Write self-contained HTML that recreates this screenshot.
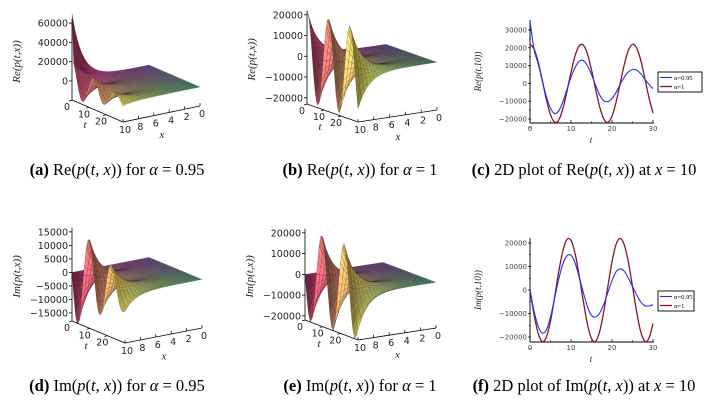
<!DOCTYPE html>
<html><head><meta charset="utf-8"><style>
html,body{margin:0;padding:0;background:#fff}
svg{display:block}
.tk{font-family:"DejaVu Sans","Liberation Sans",sans-serif;font-size:9.5px;fill:#222}
.tk2{font-family:"DejaVu Sans","Liberation Sans",sans-serif;font-size:7px;fill:#444}
.lab{font-family:"Liberation Serif",serif;font-style:italic;font-size:11px;fill:#222}
.lab2{font-family:"Liberation Serif",serif;font-style:italic;font-size:9px;fill:#222}
.cap{font-family:"Liberation Serif",serif;font-size:16.5px;fill:#000}
.leg{font-family:"Liberation Serif",serif;font-size:6.5px;fill:#000}
</style></head><body>
<svg id="fig" width="706" height="402" viewBox="0 0 706 402" xmlns="http://www.w3.org/2000/svg">
<g id="pa"></g>
<g id="pb"></g>
<g id="pc"></g>
<g id="pd"></g>
<g id="pe"></g>
<g id="pf"></g>

<text class="cap" x="117" y="175" text-anchor="middle"><tspan font-weight="bold">(a)</tspan> Re(<tspan font-style="italic">p</tspan>(<tspan font-style="italic">t</tspan>, <tspan font-style="italic">x</tspan>)) for <tspan font-style="italic">α</tspan> = 0.95</text>
<text class="cap" x="360" y="175" text-anchor="middle"><tspan font-weight="bold">(b)</tspan> Re(<tspan font-style="italic">p</tspan>(<tspan font-style="italic">t</tspan>, <tspan font-style="italic">x</tspan>)) for <tspan font-style="italic">α</tspan> = 1</text>
<text class="cap" x="584" y="175" text-anchor="middle"><tspan font-weight="bold">(c)</tspan> 2D plot of Re(<tspan font-style="italic">p</tspan>(<tspan font-style="italic">t</tspan>, <tspan font-style="italic">x</tspan>)) at <tspan font-style="italic">x</tspan> = 10</text>
<text class="cap" x="117" y="391" text-anchor="middle"><tspan font-weight="bold">(d)</tspan> Im(<tspan font-style="italic">p</tspan>(<tspan font-style="italic">t</tspan>, <tspan font-style="italic">x</tspan>)) for <tspan font-style="italic">α</tspan> = 0.95</text>
<text class="cap" x="360" y="391" text-anchor="middle"><tspan font-weight="bold">(e)</tspan> Im(<tspan font-style="italic">p</tspan>(<tspan font-style="italic">t</tspan>, <tspan font-style="italic">x</tspan>)) for <tspan font-style="italic">α</tspan> = 1</text>
<text class="cap" x="584" y="391" text-anchor="middle"><tspan font-weight="bold">(f)</tspan> 2D plot of Im(<tspan font-style="italic">p</tspan>(<tspan font-style="italic">t</tspan>, <tspan font-style="italic">x</tspan>)) at <tspan font-style="italic">x</tspan> = 10</text>
</svg>
<script>
// ---- data (values at x = 10, t = 0..30 step 1) ----
const tValues = [0,1,2,3,4,5,6,7,8,9,10,11,12,13,14,15,16,17,18,19,20,21,22,23,24,25,26,27,28,29,30];
const reAlpha095 = [35000,19000,11000,1500,-7500,-14000,-17000,-15500,-10500,-3500,3500,9000,12500,12800,10000,5000,-1000,-6500,-9800,-10200,-8500,-5000,-500,3500,6500,7800,7500,5500,2500,-500,-3000];
const reAlpha1 = [22000,19300,11900,1600,-9200,-17600,-21800,-20600,-14400,-4600,6200,15600,21100,21500,16600,7600,-3200,-13200,-20000,-21900,-18500,-10500,100,10600,18600,22000,20000,13100,3000,-7800,-16700];
const imAlpha095 = [0,-9000,-15500,-18300,-17000,-11500,-3500,4500,11000,14500,14800,11500,5500,-1000,-7000,-10800,-11500,-9800,-6000,-1000,4000,7800,9000,8000,5000,1500,-2000,-5000,-6700,-6800,-6300];
const imAlpha1 = [0,-10500,-18500,-21900,-20000,-13200,-3100,7700,16600,21500,21100,15500,6100,-4700,-14500,-20600,-21800,-17600,-9100,1600,12000,19400,22000,19200,11800,1500,-9200,-17700,-21800,-20600,-14300];
const surfPeakA = 70000;
const ticksZa = [0,20000,40000,60000];
const ticksZb = [-20000,-10000,0,10000,20000];
const ticksZd = [-15000,-10000,-5000,0,5000,10000,15000];
const ticksZe = [-20000,-10000,0,10000,20000];
const ticksT3d = [0,10,20];
const ticksX3d = [10,8,6,4,2,0];
const ticksRe2d = [30000,20000,10000,0,-10000,-20000];
const ticksIm2d = [20000,10000,0,-10000,-20000];
const ticksT2d = [0,10,20,30];

const NS='http://www.w3.org/2000/svg';
function mk(tag, attrs, parent){const e=document.createElementNS(NS,tag);for(const k in attrs)e.setAttribute(k,attrs[k]);if(parent)parent.appendChild(e);return e;}
function fmt(v){return v<0?'\u2212'+Math.abs(v):String(v);}
function interp(arr,t){const i=Math.min(Math.floor(t),arr.length-2);const f=t-i;return arr[i]*(1-f)+arr[i+1]*f;}
function lerp(a,b,f){return a+(b-a)*f;}
// corners: front (x=10) t=0 magenta, t=30 yellow; back (x=0) t=0 purple, t=30 green
const CF0=[185,50,95], CF1=[215,210,80], CB0=[120,60,170], CB1=[60,170,120];

function surface(gid, prof, P0, tv, xv, zs, zfloor, zticks, ylab){
  const g=document.getElementById(gid);
  const S=(t,x,z)=>[P0[0]+t/30*tv[0]+(10-x)/10*xv[0], P0[1]+t/30*tv[1]+(10-x)/10*xv[1]-(z-zfloor)*zs];
  const Z=(t,x)=>interp(prof,t)*Math.exp(-0.75*(10-x));
  const ax=P0[0], zmax=zticks[zticks.length-1];
  const zax=mk('line',{x1:ax,y1:P0[1],x2:ax,y2:S(0,10,zmax)[1]-4,stroke:'#000','stroke-width':0.8},g);
  
  
  zticks.forEach(v=>{const y=S(0,10,v)[1];
    mk('line',{x1:ax-3,y1:y,x2:ax,y2:y,stroke:'#000','stroke-width':0.8},g);
    const tx=mk('text',{x:ax-4,y:y+3.5,'text-anchor':'end',class:'tk'},g);tx.textContent=fmt(v);
    
    });
  const yl=mk('text',{x:0,y:0,'text-anchor':'middle',class:'lab',transform:`translate(${ax-52},${(P0[1]+S(0,10,zmax)[1])/2}) rotate(-90)`},g);
  yl.textContent=ylab;
  
  
  const NT=60, NX=24, quads=[];
  for(let i=0;i<NT;i++)for(let j=0;j<NX;j++){
    const t0=i*30/NT,t1=(i+1)*30/NT,x0=j*10/NX,x1=(j+1)*10/NX;
    quads.push({t0,t1,x0,x1,d:(t0+t1)/60+(x0+x1)/20});
  }
  quads.sort((a,b)=>a.d-b.d);
  quads.forEach(q=>{
    const pts=[[q.t0,q.x0],[q.t1,q.x0],[q.t1,q.x1],[q.t0,q.x1]].map(p=>S(p[0],p[1],Z(p[0],p[1])));
    const u=(q.t0+q.t1)/60, v=(q.x0+q.x1)/20;
    const xm=(q.x0+q.x1)/2;
    const slope=(Z(q.t1,xm)-Z(q.t0,xm))*zs;
    const sh=Math.max(0.6,Math.min(1.35,1+slope*0.05));
    const col=[0,1,2].map(k=>Math.round(Math.min(255,lerp(lerp(CB0[k],CB1[k],u),lerp(CF0[k],CF1[k],u),v)*sh)));
    const p=mk('polygon',{points:pts.map(p=>p[0].toFixed(1)+','+p[1].toFixed(1)).join(' '),fill:`rgb(${col})`,stroke:'rgba(30,20,20,0.4)','stroke-width':0.35},g);
    
    
  });
  const a0=S(0,10,zfloor), a1=S(30,10,zfloor), b1=S(30,0,zfloor);
  const ta=mk('line',{x1:a0[0],y1:a0[1],x2:a1[0],y2:a1[1],stroke:'#000','stroke-width':0.8},g);
  
  
  ticksT3d.forEach(t=>{const p=S(t,10,zfloor);
    mk('line',{x1:p[0],y1:p[1],x2:p[0]-3,y2:p[1]+1,stroke:'#000','stroke-width':0.7},g);
    const tx=mk('text',{x:p[0]-5,y:p[1]+10,'text-anchor':'middle',class:'tk'},g);tx.textContent=t;
    
    });
  const tl=mk('text',{x:S(15,10,zfloor)[0]-14,y:S(15,10,zfloor)[1]+17,class:'lab'},g);tl.textContent='t';
  
  
  const xa=mk('line',{x1:a1[0],y1:a1[1],x2:b1[0],y2:b1[1],stroke:'#000','stroke-width':0.8},g);
  
  
  ticksX3d.forEach(x=>{const p=S(30,x,zfloor);
    mk('line',{x1:p[0],y1:p[1],x2:p[0],y2:p[1]-3,stroke:'#000','stroke-width':0.7},g);
    const tx=mk('text',{x:p[0]+2,y:p[1]+11,'text-anchor':'middle',class:'tk'},g);tx.textContent=x;
    
    });
  const mid=S(30,5,zfloor);
  const xl=mk('text',{x:mid[0]-2,y:mid[1]+24,class:'lab'},g);xl.textContent='x';
  
  
}

function smoothPath(pts){
  let d='M'+pts[0][0].toFixed(1)+','+pts[0][1].toFixed(1);
  for(let i=0;i<pts.length-1;i++){
    const p0=pts[Math.max(0,i-1)],p1=pts[i],p2=pts[i+1],p3=pts[Math.min(pts.length-1,i+2)];
    const c1=[p1[0]+(p2[0]-p0[0])/6,p1[1]+(p2[1]-p0[1])/6];
    const c2=[p2[0]-(p3[0]-p1[0])/6,p2[1]-(p3[1]-p1[1])/6];
    d+=` C${c1[0].toFixed(1)},${c1[1].toFixed(1)} ${c2[0].toFixed(1)},${c2[1].toFixed(1)} ${p2[0].toFixed(1)},${p2[1].toFixed(1)}`;
  }
  return d;
}

function line2d(gid, s1, s2, y0, slope, axTop, axBot, yticks, ylab, legY, legW){
  const g=document.getElementById(gid);
  const X=t=>530+t*123/30, Y=v=>y0-v*slope;
  const yax=mk('line',{x1:530,y1:axTop,x2:530,y2:axBot,stroke:'#000','stroke-width':0.9},g);
  
  
  const xax=mk('line',{x1:530,y1:axBot,x2:654,y2:axBot,stroke:'#000','stroke-width':0.9},g);
  
  
  yticks.forEach(v=>{const y=Y(v);
    mk('line',{x1:528,y1:y,x2:531,y2:y,stroke:'#000','stroke-width':0.7},g);
    mk('line',{x1:529,y1:Y(v-5000),x2:531,y2:Y(v-5000),stroke:'#000','stroke-width':0.5},g);
    const tx=mk('text',{x:527,y:y+2.5,'text-anchor':'end',class:'tk2'},g);tx.textContent=fmt(v);
    
    });
  ticksT2d.forEach(t=>{const x=X(t);
    mk('line',{x1:x,y1:axBot,x2:x,y2:axBot-3,stroke:'#000','stroke-width':0.7},g);
    if(t<30) mk('line',{x1:X(t+5),y1:axBot,x2:X(t+5),y2:axBot-2,stroke:'#000','stroke-width':0.5},g);
    const tx=mk('text',{x:x,y:axBot+8,'text-anchor':'middle',class:'tk2'},g);tx.textContent=t;
    
    });
  const xl=mk('text',{x:591,y:axBot+20,'text-anchor':'middle',class:'lab2'},g);xl.textContent='t';
  
  
  const yl=mk('text',{x:0,y:0,'text-anchor':'middle',class:'lab2',transform:`translate(481,${(axTop+axBot)/2}) rotate(-90)`},g);yl.textContent=ylab;
  
  
  const pts=arr=>arr.map((v,i)=>[X(tValues[i]),Y(v)]);
  const l2=mk('path',{d:smoothPath(pts(s2)),fill:'none',stroke:'#8b1520','stroke-width':1.3},g);
  
  
  const l1=mk('path',{d:smoothPath(pts(s1)),fill:'none',stroke:'#1f2fff','stroke-width':1.1},g);
  
  
  const lg=mk('g',{},g);
  
  
  mk('rect',{x:658,y:legY,width:legW,height:20,fill:'#fff',stroke:'#000','stroke-width':0.9},lg);
  mk('line',{x1:660,y1:legY+5.5,x2:672,y2:legY+5.5,stroke:'#1f2fff','stroke-width':1.1},lg);
  mk('line',{x1:660,y1:legY+14.5,x2:672,y2:legY+14.5,stroke:'#8b1520','stroke-width':1.3},lg);
  const e1=mk('text',{x:674,y:legY+8,class:'leg'},lg);e1.textContent='\u03b1=0.95';
  
  
  const e2=mk('text',{x:674,y:legY+17,class:'leg'},lg);e2.textContent='\u03b1=1';
  
  
}

const surfA = reAlpha095.slice(); surfA[0]=surfPeakA;
surface('pa', surfA, [72,100], [51,22], [77,-16], 0.000965, -19700, ticksZa, 'Re(p(t,x))');
surface('pb', reAlpha1, [307,104], [51,18], [79,-12], 0.002075, -23000, ticksZb, 'Re(p(t,x))');
surface('pd', imAlpha095, [72,321], [53,22], [77,-15], 0.0027, -18000, ticksZd, 'Im(p(t,x))');
surface('pe', imAlpha1, [305,320], [53,20], [78,-12], 0.002075, -22000, ticksZe, 'Im(p(t,x))');
line2d('pc', reAlpha095, reAlpha1, 83.4, 0.00178, 20, 123, ticksRe2d, 'Re(p(t,10))', 72, 44);
line2d('pf', imAlpha095, imAlpha1, 290, 0.00235, 238, 342, ticksIm2d, 'Im(p(t,10))', 291, 36);
</script>
</body></html>
